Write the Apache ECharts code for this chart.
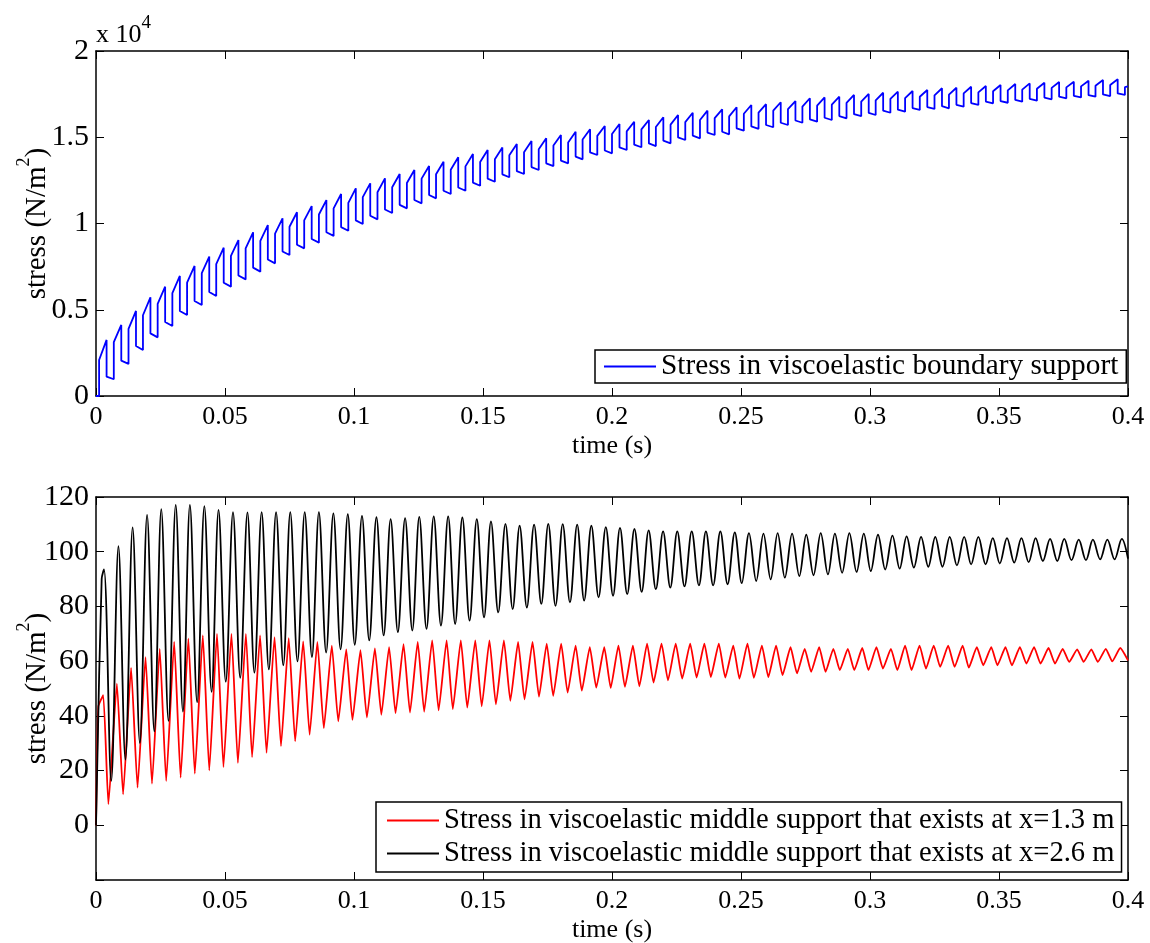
<!DOCTYPE html>
<html>
<head>
<meta charset="utf-8">
<title>stress in viscoelastic supports</title>
<script src="https://cdn.jsdelivr.net/npm/echarts@6/dist/echarts.min.js"></script>
<style>
html, body { margin: 0; padding: 0; background: #fff; }
#chart { width: 1150px; height: 943px; }
</style>
</head>
<body>
<div id="chart"></div>
<script>
// boundary support (values in x 10^4 N/m2), one entry per tooth
var topRiseT = [0.0012, 0.0069, 0.0126, 0.0182, 0.0239, 0.0296, 0.0353, 0.0410, 0.0466, 0.0523,
  0.0580, 0.0637, 0.0694, 0.0750, 0.0807, 0.0864, 0.0921, 0.0978, 0.1034, 0.1091,
  0.1148, 0.1205, 0.1262, 0.1318, 0.1375, 0.1432, 0.1489, 0.1546, 0.1602, 0.1659,
  0.1716, 0.1773, 0.1830, 0.1886, 0.1943, 0.2000, 0.2057, 0.2114, 0.2170, 0.2227,
  0.2284, 0.2341, 0.2398, 0.2454, 0.2511, 0.2568, 0.2625, 0.2682, 0.2738, 0.2795,
  0.2852, 0.2909, 0.2966, 0.3022, 0.3079, 0.3136, 0.3193, 0.3250, 0.3306, 0.3363,
  0.3420, 0.3477, 0.3534, 0.3590, 0.3647, 0.3704, 0.3761, 0.3818, 0.3874, 0.3931,
  0.3988];
var topDropT = [0.0041, 0.0098, 0.0155, 0.0211, 0.0268, 0.0325, 0.0382, 0.0439, 0.0495, 0.0552,
  0.0609, 0.0666, 0.0723, 0.0779, 0.0836, 0.0893, 0.0950, 0.1007, 0.1063, 0.1120,
  0.1177, 0.1234, 0.1291, 0.1347, 0.1404, 0.1461, 0.1518, 0.1575, 0.1631, 0.1688,
  0.1745, 0.1802, 0.1859, 0.1915, 0.1972, 0.2029, 0.2086, 0.2143, 0.2199, 0.2256,
  0.2313, 0.2370, 0.2427, 0.2483, 0.2540, 0.2597, 0.2654, 0.2711, 0.2767, 0.2824,
  0.2881, 0.2938, 0.2995, 0.3051, 0.3108, 0.3165, 0.3222, 0.3279, 0.3335, 0.3392,
  0.3449, 0.3506, 0.3563, 0.3619, 0.3676, 0.3733, 0.3790, 0.3847, 0.3903, 0.3960];
var topLow = [0, 0.097, 0.186, 0.267, 0.340, 0.406, 0.470, 0.528, 0.580, 0.634,
  0.676, 0.721, 0.769, 0.817, 0.856, 0.889, 0.928, 0.958, 0.997, 1.024,
  1.061, 1.088, 1.117, 1.146, 1.171, 1.190, 1.219, 1.242, 1.268, 1.287,
  1.310, 1.333, 1.349, 1.372, 1.397, 1.407, 1.426, 1.442, 1.449, 1.465,
  1.484, 1.494, 1.513, 1.517, 1.538, 1.549, 1.558, 1.571, 1.584, 1.590,
  1.600, 1.610, 1.622, 1.629, 1.642, 1.648, 1.658, 1.664, 1.668, 1.677,
  1.687, 1.697, 1.700, 1.706, 1.712, 1.720, 1.726, 1.731, 1.735, 1.739,
  1.745];
var topJump = [0.209, 0.312, 0.389, 0.468, 0.534, 0.597, 0.657, 0.713, 0.765, 0.812,
  0.856, 0.899, 0.941, 0.981, 1.018, 1.052, 1.088, 1.120, 1.153, 1.181,
  1.210, 1.235, 1.260, 1.286, 1.312, 1.331, 1.356, 1.373, 1.395, 1.413,
  1.431, 1.452, 1.470, 1.487, 1.508, 1.519, 1.534, 1.546, 1.559, 1.573,
  1.588, 1.600, 1.611, 1.621, 1.636, 1.643, 1.654, 1.663, 1.678, 1.683,
  1.689, 1.699, 1.707, 1.714, 1.723, 1.727, 1.735, 1.743, 1.747, 1.754,
  1.760, 1.767, 1.772, 1.776, 1.781, 1.786, 1.789, 1.795, 1.799, 1.803,
  1.790];
var topPeak = [0.325, 0.412, 0.493, 0.572, 0.634, 0.696, 0.754, 0.808, 0.860, 0.904,
  0.949, 0.991, 1.030, 1.065, 1.101, 1.136, 1.171, 1.204, 1.233, 1.262,
  1.287, 1.310, 1.333, 1.358, 1.384, 1.403, 1.426, 1.440, 1.461, 1.478,
  1.494, 1.513, 1.532, 1.546, 1.565, 1.577, 1.590, 1.600, 1.616, 1.629,
  1.642, 1.654, 1.662, 1.674, 1.687, 1.692, 1.703, 1.710, 1.726, 1.731,
  1.735, 1.745, 1.751, 1.758, 1.764, 1.768, 1.774, 1.784, 1.787, 1.793,
  1.797, 1.803, 1.809, 1.812, 1.816, 1.820, 1.822, 1.828, 1.832, 1.836];
var topDrop = [0.112, 0.205, 0.290, 0.363, 0.429, 0.493, 0.551, 0.603, 0.657, 0.699,
  0.744, 0.791, 0.838, 0.877, 0.910, 0.949, 0.979, 1.018, 1.045, 1.081,
  1.108, 1.136, 1.165, 1.190, 1.209, 1.237, 1.260, 1.285, 1.304, 1.327,
  1.349, 1.365, 1.388, 1.412, 1.423, 1.441, 1.457, 1.464, 1.480, 1.499,
  1.509, 1.527, 1.532, 1.552, 1.563, 1.571, 1.584, 1.597, 1.604, 1.613,
  1.623, 1.634, 1.641, 1.654, 1.660, 1.669, 1.675, 1.680, 1.688, 1.698,
  1.707, 1.710, 1.716, 1.722, 1.730, 1.735, 1.740, 1.744, 1.748, 1.754];
var topEnd = [0.4, 1.795];

// middle support at x=2.6 m (black)
var blackStart = [[0, 0], [0.0022, 90.0]];
var blackPeakT = [0.0031, 0.0087, 0.0142, 0.0198, 0.0253, 0.0309, 0.0364, 0.0420, 0.0475, 0.0531,
  0.0587, 0.0642, 0.0698, 0.0753, 0.0809, 0.0864, 0.0920, 0.0976, 0.1031, 0.1087,
  0.1142, 0.1198, 0.1253, 0.1309, 0.1365, 0.1420, 0.1476, 0.1531, 0.1587, 0.1642,
  0.1698, 0.1753, 0.1809, 0.1865, 0.1920, 0.1976, 0.2031, 0.2087, 0.2142, 0.2198,
  0.2253, 0.2309, 0.2364, 0.2420, 0.2476, 0.2531, 0.2587, 0.2642, 0.2698, 0.2753,
  0.2809, 0.2864, 0.2920, 0.2976, 0.3031, 0.3087, 0.3142, 0.3198, 0.3253, 0.3309,
  0.3365, 0.3420, 0.3476, 0.3531, 0.3587, 0.3642, 0.3698, 0.3753, 0.3809, 0.3864,
  0.3920, 0.3976];
var blackPeak = [93.5, 102.0, 108.9, 113.5, 115.6, 117.1, 117.1, 116.7, 115.3, 114.5,
  114.4, 114.5, 114.5, 114.5, 114.5, 114.5, 114.0, 113.7, 113.1, 112.6,
  111.9, 112.3, 112.7, 112.9, 112.9, 112.5, 111.9, 111.1, 110.2, 109.5,
  109.9, 110.2, 110.1, 109.9, 109.5, 109.0, 108.7, 108.3, 107.8, 107.4,
  107.4, 107.4, 107.4, 107.4, 107.1, 106.8, 106.6, 106.8, 106.6, 106.2,
  106.8, 106.6, 106.8, 106.6, 106.2, 105.9, 105.6, 105.4, 105.4, 105.4,
  105.4, 105.4, 105.0, 105.0, 105.0, 105.0, 104.7, 104.7, 104.4, 104.4,
  104.4, 104.7];
var blackTroughT = [0.0059, 0.0114, 0.0170, 0.0226, 0.0281, 0.0337, 0.0392, 0.0448, 0.0503, 0.0559,
  0.0614, 0.0670, 0.0726, 0.0781, 0.0837, 0.0892, 0.0948, 0.1003, 0.1059, 0.1115,
  0.1170, 0.1226, 0.1281, 0.1337, 0.1392, 0.1448, 0.1504, 0.1559, 0.1615, 0.1670,
  0.1726, 0.1781, 0.1837, 0.1892, 0.1948, 0.2004, 0.2059, 0.2115, 0.2170, 0.2226,
  0.2281, 0.2337, 0.2392, 0.2448, 0.2503, 0.2559, 0.2615, 0.2670, 0.2726, 0.2781,
  0.2837, 0.2892, 0.2948, 0.3003, 0.3059, 0.3115, 0.3170, 0.3226, 0.3281, 0.3337,
  0.3392, 0.3448, 0.3503, 0.3559, 0.3615, 0.3670, 0.3726, 0.3781, 0.3837, 0.3892,
  0.3948];
var blackTrough = [16.2, 24.0, 30.1, 34.3, 38.2, 41.6, 45.0, 48.8, 52.5, 53.9,
  55.8, 57.0, 58.5, 59.9, 61.5, 63.1, 64.3, 66.0, 67.6, 69.4,
  70.6, 71.2, 71.8, 73.0, 73.6, 74.8, 76.0, 77.8, 79.0, 79.6,
  80.9, 80.2, 81.5, 82.1, 83.3, 83.9, 84.5, 85.3, 86.3, 86.9,
  87.3, 87.7, 87.7, 88.1, 88.5, 89.3, 89.9, 90.5, 91.1, 91.4,
  91.7, 92.3, 92.6, 92.9, 93.5, 93.8, 94.2, 94.5, 94.5, 95.0,
  95.4, 95.4, 95.7, 96.0, 96.2, 96.6, 96.6, 96.9, 96.9, 97.2,
  97.2];
var blackEnd = [0.4, 97.5];

// middle support at x=1.3 m (red)
var redStart = [[0, 0], [0.0009, 43.4]];
var redPeakT = [0.0028, 0.0081, 0.0136, 0.0192, 0.0247, 0.0303, 0.0358, 0.0414, 0.0469, 0.0525,
  0.0581, 0.0636, 0.0692, 0.0747, 0.0803, 0.0858, 0.0914, 0.0970, 0.1025, 0.1081,
  0.1136, 0.1192, 0.1247, 0.1303, 0.1359, 0.1414, 0.1470, 0.1525, 0.1581, 0.1636,
  0.1692, 0.1747, 0.1803, 0.1859, 0.1914, 0.1970, 0.2025, 0.2081, 0.2136, 0.2192,
  0.2247, 0.2303, 0.2358, 0.2414, 0.2470, 0.2525, 0.2581, 0.2636, 0.2692, 0.2747,
  0.2803, 0.2858, 0.2914, 0.2970, 0.3025, 0.3081, 0.3136, 0.3192, 0.3247, 0.3303,
  0.3359, 0.3414, 0.3470, 0.3525, 0.3581, 0.3636, 0.3692, 0.3747, 0.3803, 0.3858,
  0.3914, 0.3970];
var redPeak = [47.6, 51.8, 57.5, 61.5, 64.5, 67.0, 68.2, 69.4, 70.0, 70.0,
  70.0, 69.4, 68.8, 68.4, 67.2, 67.0, 65.7, 64.3, 64.0, 64.7,
  65.1, 66.2, 67.0, 67.6, 67.6, 67.6, 67.6, 67.6, 67.6, 67.0,
  67.0, 66.4, 66.4, 65.7, 65.1, 65.1, 65.7, 65.7, 66.4, 66.4,
  66.4, 66.4, 66.4, 66.4, 65.7, 66.4, 65.7, 65.7, 65.1, 64.5,
  65.1, 64.5, 64.5, 64.8, 65.1, 64.5, 65.7, 65.7, 65.7, 65.7,
  65.7, 65.1, 65.1, 65.1, 65.1, 65.1, 64.8, 64.5, 64.3, 64.3,
  64.5, 64.8];
var redTroughT = [0.0048, 0.0105, 0.0161, 0.0217, 0.0272, 0.0328, 0.0383, 0.0439, 0.0494, 0.0550,
  0.0605, 0.0661, 0.0717, 0.0772, 0.0828, 0.0883, 0.0939, 0.0994, 0.1050, 0.1106,
  0.1161, 0.1217, 0.1272, 0.1328, 0.1383, 0.1439, 0.1495, 0.1550, 0.1606, 0.1661,
  0.1717, 0.1772, 0.1828, 0.1883, 0.1939, 0.1995, 0.2050, 0.2106, 0.2161, 0.2217,
  0.2272, 0.2328, 0.2383, 0.2439, 0.2494, 0.2550, 0.2606, 0.2661, 0.2717, 0.2772,
  0.2828, 0.2883, 0.2939, 0.2994, 0.3050, 0.3106, 0.3161, 0.3217, 0.3272, 0.3328,
  0.3383, 0.3439, 0.3494, 0.3550, 0.3606, 0.3661, 0.3717, 0.3772, 0.3828, 0.3883,
  0.3939];
var redTrough = [7.7, 11.3, 13.8, 15.2, 16.2, 17.4, 18.9, 20.1, 21.3, 22.8,
  24.9, 26.5, 28.9, 30.7, 33.1, 35.5, 38.0, 38.5, 39.4, 40.4,
  41.0, 41.2, 41.5, 42.0, 42.5, 43.0, 43.5, 44.2, 45.5, 46.0,
  47.0, 47.3, 48.5, 49.2, 50.3, 50.2, 50.6, 50.8, 52.2, 53.0,
  53.6, 54.0, 54.2, 54.0, 53.6, 53.9, 54.2, 54.9, 55.5, 56.1,
  56.1, 56.7, 56.7, 56.7, 57.3, 56.7, 56.7, 57.3, 57.9, 57.9,
  57.6, 58.5, 58.5, 58.5, 59.1, 59.1, 59.1, 59.7, 59.7, 59.7,
  59.9];
var redEnd = [0.4, 60.3];

var xTicks = { min: 0, max: 0.4, step: 0.05 };
var topTicks = { min: 0, max: 2, step: 0.5 };
var botTicks = { min: -20, max: 120, step: 20 };

var nameTop = 'Stress in viscoelastic boundary support';
var nameRed = 'Stress in viscoelastic middle support that exists at x=1.3 m';
var nameBlack = 'Stress in viscoelastic middle support that exists at x=2.6 m';

var FONT = '"Liberation Serif", "Times New Roman", serif';

// build the vertex lists
function boundaryData() {
  var d = [[0, 0]];
  for (var i = 0; i < topRiseT.length; i++) {
    d.push([topRiseT[i], topLow[i]]);
    d.push([topRiseT[i], topJump[i]]);
    if (i < topPeak.length) {
      d.push([topDropT[i], topPeak[i]]);
      d.push([topDropT[i], topDrop[i]]);
    }
  }
  d.push(topEnd);
  return d;
}

function waveData(start, pT, pV, tT, tV, end) {
  var d = start.slice();
  for (var i = 0; i < pT.length; i++) {
    d.push([pT[i], pV[i]]);
    if (i < tT.length) d.push([tT[i], tV[i]]);
  }
  d.push(end);
  return d;
}

var lineBlack = { color: '#000', width: 1.5 };
var tickStyle = { inside: true, length: 8, lineStyle: { color: '#000', width: 1 } };

function richName(size, supSize) {
  return {
    rich: {
      m: { color: '#000', fontFamily: FONT, fontWeight: 'normal', fontSize: size, lineHeight: size + 8, verticalAlign: 'bottom' },
      s: { color: '#000', fontFamily: FONT, fontWeight: 'normal', fontSize: supSize, lineHeight: supSize + 5, verticalAlign: 'top' }
    }
  };
}

function xAxisBottom(g) {
  return {
    gridIndex: g, type: 'value', position: 'bottom',
    min: xTicks.min, max: xTicks.max, interval: xTicks.step,
    axisLine: { onZero: false, lineStyle: lineBlack },
    axisTick: tickStyle,
    axisLabel: { color: '#000', fontFamily: FONT, fontSize: 26, margin: 8,
      formatter: function (v) { return String(+v.toFixed(2)); } },
    splitLine: { show: false },
    name: 'time (s)', nameLocation: 'middle', nameGap: 37, nameMoveOverlap: false,
    nameTextStyle: { color: '#000', fontFamily: FONT, fontSize: 26 }
  };
}
function xAxisTop(g) {
  return {
    gridIndex: g, type: 'value', position: 'top',
    min: xTicks.min, max: xTicks.max, interval: xTicks.step,
    axisLine: { onZero: false, lineStyle: lineBlack },
    axisTick: tickStyle,
    axisLabel: { show: false }, splitLine: { show: false }
  };
}
function yAxisLeft(g, t, fmt) {
  return {
    gridIndex: g, type: 'value', position: 'left',
    min: t.min, max: t.max, interval: t.step,
    axisLine: { onZero: false, lineStyle: lineBlack },
    axisTick: tickStyle,
    axisLabel: { color: '#000', fontFamily: FONT, fontSize: 30, margin: 7, formatter: fmt },
    splitLine: { show: false },
    name: '{m|stress (N/m}{s|2}{m|)}', nameLocation: 'middle', nameGap: 44, nameRotate: 90,
    nameMoveOverlap: false,
    nameTextStyle: richName(29, 18)
  };
}
function yAxisRight(g, t) {
  return {
    gridIndex: g, type: 'value', position: 'right',
    min: t.min, max: t.max, interval: t.step,
    axisLine: { onZero: false, lineStyle: lineBlack },
    axisTick: tickStyle,
    axisLabel: { show: false }, splitLine: { show: false }
  };
}

function legendBox(names, left, top, pad, vertical, size) {
  return {
    data: names, left: left, top: top, orient: vertical ? 'vertical' : 'horizontal',
    padding: pad, itemGap: 4, itemWidth: 52, itemHeight: 2, icon: 'rect',
    backgroundColor: '#fff', borderColor: '#000', borderWidth: 1.5, borderRadius: 0,
    textStyle: { color: '#000', fontFamily: FONT, fontSize: size }
  };
}

var chart = echarts.init(document.getElementById('chart'), null, { renderer: 'canvas' });
var option = {
  backgroundColor: '#fff',
  animation: false,
  title: {
    left: 96, top: 14, padding: 0,
    text: '{m|x 10}{s|4}',
    textStyle: richName(26, 19)
  },
  grid: [
    { left: 96, top: 51, width: 1032, height: 345, containLabel: false, outerBoundsMode: 'none' },
    { left: 96, top: 497, width: 1032, height: 383, containLabel: false, outerBoundsMode: 'none' }
  ],
  xAxis: [xAxisBottom(0), xAxisTop(0), xAxisBottom(1), xAxisTop(1)],
  yAxis: [
    yAxisLeft(0, topTicks, function (v) { return String(+v.toFixed(1)); }),
    yAxisRight(0, topTicks),
    yAxisLeft(1, botTicks, function (v) { return v === -20 ? '' : String(v); }),
    yAxisRight(1, botTicks)
  ],
  legend: [
    legendBox([nameTop], 595, 350, [2, 8, 2, 9], false, 29.3),
    legendBox([nameRed, nameBlack], 376, 802, [4, 7, 4, 11], true, 28.6)
  ],
  series: [
    {
      name: nameTop, type: 'line', xAxisIndex: 0, yAxisIndex: 0,
      data: boundaryData(), symbol: 'none', showSymbol: false,
      lineStyle: { color: '#0000ff', width: 1.8 }, itemStyle: { color: '#0000ff' },
      z: 2
    },
    {
      name: nameRed, type: 'line', xAxisIndex: 2, yAxisIndex: 2,
      data: waveData(redStart, redPeakT, redPeak, redTroughT, redTrough, redEnd),
      symbol: 'none', showSymbol: false, smooth: 0.15,
      lineStyle: { color: '#ff0000', width: 1.8 }, itemStyle: { color: '#ff0000' },
      z: 2
    },
    {
      name: nameBlack, type: 'line', xAxisIndex: 2, yAxisIndex: 2,
      data: waveData(blackStart, blackPeakT, blackPeak, blackTroughT, blackTrough, blackEnd),
      symbol: 'none', showSymbol: false, smooth: 0.35,
      lineStyle: { color: '#000000', width: 1.8 }, itemStyle: { color: '#000000' },
      z: 3
    }
  ]
};
chart.setOption(option);
</script>
</body>
</html>
